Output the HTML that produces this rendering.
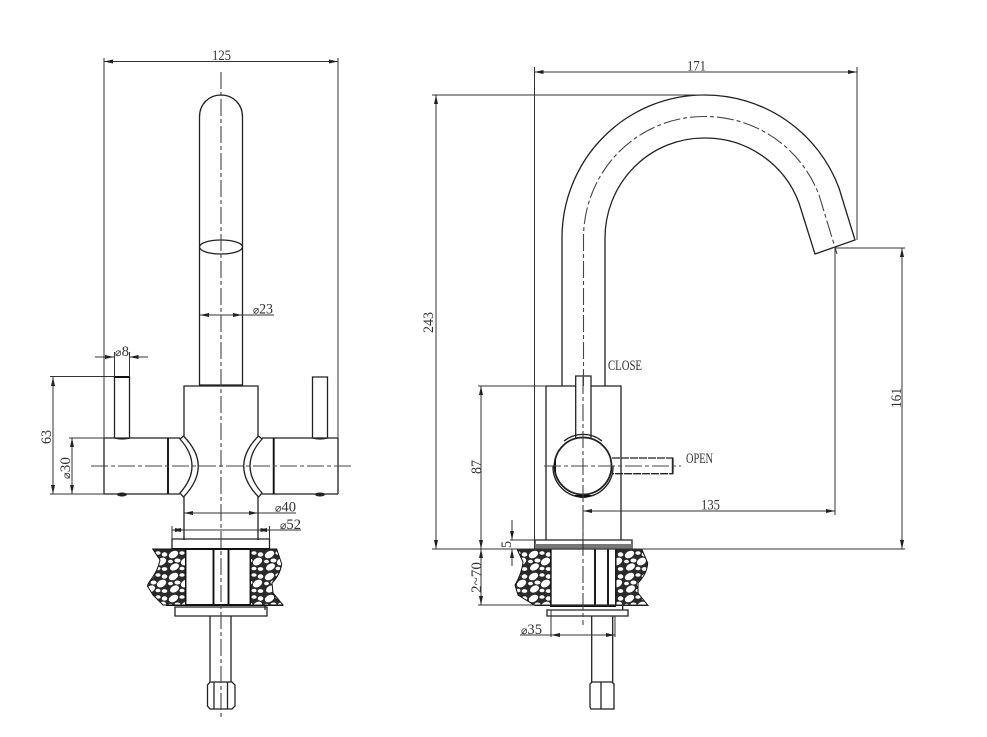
<!DOCTYPE html>
<html><head><meta charset="utf-8"><style>
html,body{margin:0;padding:0;background:#fff}
svg{display:block}
text{font-family:"Liberation Serif",serif;font-size:15px;fill:#333}
.o{fill:none;stroke:#222;stroke-width:1.3}
.h{fill:none;stroke:#111;stroke-width:1.9}
.d{fill:none;stroke:#333;stroke-width:1}
.c{fill:none;stroke:#444;stroke-width:1.1;stroke-dasharray:17 3 4 3}
.a{marker-start:url(#ar);marker-end:url(#ar)}
.e{marker-end:url(#ar)}
</style></head><body>
<svg xmlns="http://www.w3.org/2000/svg" width="987" height="737" viewBox="0 0 987 737">
<defs>
<marker id="ar" markerUnits="userSpaceOnUse" markerWidth="10" markerHeight="6" refX="9" refY="3" orient="auto-start-reverse"><path d="M0 1L9 3L0 5Z" fill="#222"/></marker>
<pattern id="st" patternUnits="userSpaceOnUse" width="24" height="22">
<rect width="24" height="22" fill="#2a2a2a"/>
<g fill="#fff">
<ellipse cx="5.500" cy="4.500" rx="5" ry="3.300" transform="rotate(-30 5.500 4.500)"/>
<ellipse cx="14" cy="3" rx="2.600" ry="1.800"/>
<ellipse cx="20.500" cy="4.500" rx="2.800" ry="2.200"/>
<ellipse cx="2.500" cy="11.500" rx="2.400" ry="1.800"/>
<ellipse cx="9.500" cy="10.500" rx="3" ry="2"/>
<ellipse cx="17.500" cy="11.500" rx="5" ry="3.400" transform="rotate(-30 17.500 11.500)"/>
<ellipse cx="6.500" cy="17" rx="4.800" ry="3.200" transform="rotate(-30 6.500 17)"/>
<ellipse cx="14" cy="18.500" rx="2.500" ry="1.800"/>
<ellipse cx="20.500" cy="19" rx="2.800" ry="1.900"/>
</g></pattern>
</defs>

<!-- LEFT VIEW -->
<g class="o">
<path d="M199.500 385V117C199.500 104 209 95 221 95S242.500 104 242.500 117V385Z"/>
<ellipse cx="221" cy="247" rx="21.500" ry="7"/>
<path d="M184 436V386H258V436M184 497V540M258 497V540"/>
<path d="M104 438H180M104 494H180M262 438H338M262 494H338"/>
<path d="M104 438V494M338 438V494"/>
<path d="M183.500 436Q213 466 183.500 497L180 493Q204 466 180 439Z"/>
<path d="M258.500 436Q229 466 258.500 497L262 493Q238 466 262 439Z"/>
<path d="M114.500 438V377H129.500V438Q122 440 114.500 438Z"/>
<path d="M312.500 438V377H327.500V438Q320 440 312.500 438Z"/>
<path d="M172 539H269.500V549H172Z"/>
<path d="M175 607H267V616H175ZM178 605H265V610"/>
<path d="M210 616V682M231 616V682"/>
<path d="M210 682H232L235 685V706L232 709H210L207.500 706V685ZM214 682V709M227.500 682V709"/>
</g>
<path class="h" d="M168 438V494M273.700 438V494M114.500 377H129.500M172 549H269.500M185.500 549V605M213.500 549V605M228.500 549V605M250.500 549V605M166 605H283"/>
<ellipse cx="122" cy="494.500" rx="5" ry="2" fill="#222"/>
<ellipse cx="320" cy="494.500" rx="5" ry="2" fill="#222"/>
<path d="M152.700 549L160 560Q158 570 152 578T148 587L153 595L163 605H185.500V549Z" fill="url(#st)" stroke="#111"/>
<path d="M250.500 549H276.700L281.700 564Q280 575 272 583L273 593L283 605H250.500Z" fill="url(#st)" stroke="#111"/>
<path class="c" d="M221 72V720M91 466H352"/>

<g class="d">
<path class="a" d="M104 61.500H338"/>
<path d="M104 58V438M338 58V438"/>
<path class="a" d="M200 315H242"/><path d="M242 315H274"/>
<path class="e" d="M95 357H114"/><path class="e" d="M148 357H129.500"/>
<path d="M114.500 352V377M129.500 352V377"/>
<path class="a" d="M53 377V494"/><path d="M50 376.500H114M50 494H104"/>
<path class="a" d="M72 438V494"/><path d="M69 438H104"/>
<path class="a" d="M184 513H258"/><path d="M258 513H296"/>
<path class="a" d="M172 530H184"/><path class="a" d="M258 530H269.500"/>
<path d="M184 530H258M269.500 530H301M172 526V539M269.500 526V539"/>
</g>
<text x="212" y="60" textLength="19" lengthAdjust="spacingAndGlyphs">125</text>
<text x="253" y="313.500" textLength="20" lengthAdjust="spacingAndGlyphs"><tspan font-size="11">⌀</tspan>23</text>
<text x="115" y="356" textLength="14" lengthAdjust="spacingAndGlyphs"><tspan font-size="11">⌀</tspan>8</text>
<text transform="translate(51 444) rotate(-90)" textLength="14" lengthAdjust="spacingAndGlyphs">63</text>
<text transform="translate(70 479) rotate(-90)" textLength="22" lengthAdjust="spacingAndGlyphs"><tspan font-size="11">⌀</tspan>30</text>
<text x="275" y="511.500" textLength="21" lengthAdjust="spacingAndGlyphs"><tspan font-size="11">⌀</tspan>40</text>
<text x="280" y="529" textLength="21" lengthAdjust="spacingAndGlyphs"><tspan font-size="11">⌀</tspan>52</text>

<!-- RIGHT VIEW -->
<g class="o">
<path d="M562 386V238A142 143 0 0 1 704 95A143 143 0 0 1 839 188L855 240L815 254L799 203A100 100 0 0 0 704 138A99 100 0 0 0 605 238V386"/>
<path d="M546 386H621V540M546 386V540"/>
<path d="M575.700 438V376H591V438" fill="#fff"/>
<circle cx="583" cy="466" r="28.500" fill="#fff" stroke-width="1.800"/>
<path d="M564 441A30.500 30.500 0 0 1 602 441M613 466A30 30 0 0 1 583 497A30 30 0 0 1 553 466"/>
<path d="M612 458H672.700V473.700H612" stroke-dasharray="8 1"/>
<path d="M672.700 458V473.700" stroke-width="1.800"/>
<path d="M535 540H632V549H535Z"/>
<path d="M547 610H628V616H547ZM550 605H622.700V610"/>
<path d="M591.700 616V682M612.700 616V682"/>
<path d="M592 682H612L614 684V709H591L590 707V684ZM601 682V709"/>
</g>
<path d="M535 544H632V548.500H535Z" fill="#777"/>
<path d="M574 495Q583 501 592 495Z M553 466L556 458V474Z" fill="#111"/>
<path class="h" d="M550.700 549V605M595 549V605M608 549V605M616 549V605M550 606H616"/>
<path d="M517 549L523 562Q522 573 515 585L518 595L535 605.500H550.700V549Z" fill="url(#st)" stroke="#111"/>
<path d="M616 549H641.700L647.700 563Q647 574 638 583V593L648 605.500H616Z" fill="url(#st)" stroke="#111"/>
<path class="c" d="M583 377V625M544 466H681"/>
<path class="c" d="M583.500 386V238A120.500 121.500 0 0 1 704 116.500A121.500 121.500 0 0 1 819 195L837 254"/>

<g class="d">
<path d="M432 549H905M432 95H704"/>
<path d="M534.500 67V549"/>
<path d="M857 67V240"/>
<path class="a" d="M534.500 72H857"/>
<path class="a" d="M436 95V549"/>
<path class="a" d="M902 248V549"/><path d="M835 248H905M835 248V515"/>
<path class="a" d="M583 511H835"/><path d="M583 505V549"/>
<path class="a" d="M481 386V549"/><path d="M478 386H546"/>
<path class="a" d="M481 549V605"/><path d="M478 605H648"/>
<path class="e" d="M512 520V540"/><path class="e" d="M512 566V549"/>
<path d="M510 540H535"/>
<path class="a" d="M551 635H615"/><path d="M520 635H551M551 610V637M615 616V637"/>
</g>
<text x="687" y="70.500" textLength="19" lengthAdjust="spacingAndGlyphs">171</text>
<text transform="translate(433 333) rotate(-90)" textLength="21" lengthAdjust="spacingAndGlyphs">243</text>
<text transform="translate(901 408) rotate(-90)" textLength="20" lengthAdjust="spacingAndGlyphs">161</text>
<text x="701" y="509.500" textLength="19" lengthAdjust="spacingAndGlyphs">135</text>
<text transform="translate(481 474) rotate(-90)" textLength="14" lengthAdjust="spacingAndGlyphs">87</text>
<text transform="translate(511 548) rotate(-90)" textLength="7" lengthAdjust="spacingAndGlyphs">5</text>
<text transform="translate(481 593) rotate(-90)" textLength="31" lengthAdjust="spacingAndGlyphs">2~70</text>
<text x="521" y="634" textLength="21" lengthAdjust="spacingAndGlyphs"><tspan font-size="11">⌀</tspan>35</text>
<text x="608" y="370" font-size="13" textLength="34" lengthAdjust="spacingAndGlyphs">CLOSE</text>
<text x="686" y="463" font-size="13" textLength="27" lengthAdjust="spacingAndGlyphs">OPEN</text>
</svg>
</body></html>
